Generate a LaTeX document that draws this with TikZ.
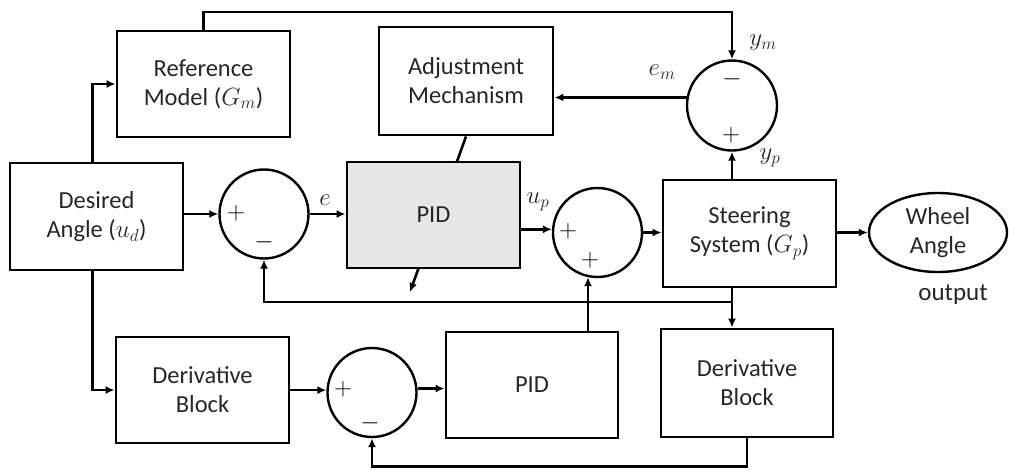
\documentclass[tikz,border=0pt]{standalone}
\usepackage{fontspec}
\setmainfont{Carlito}
\usetikzlibrary{arrows.meta,shapes.geometric}
\pgfdeclarelayer{background}
\pgfsetlayers{background,main}
\definecolor{pidgray}{HTML}{E6E6E6}
\definecolor{txt}{HTML}{262626}
\tikzset{
  blockbox/.style={draw=black, line width=2.9pt, rectangle, align=center, inner sep=0pt, text=txt,
    minimum width=173pt, minimum height=106pt, font=\fontsize{24.5}{29}\selectfont},
  sumnode/.style={draw=black, line width=2.4pt, circle, inner sep=0pt, minimum size=89pt},
  outnode/.style={draw=black, line width=2.4pt, ellipse, inner sep=0pt, align=center, text=txt,
    minimum width=138pt, minimum height=79pt, font=\fontsize{24.5}{29}\selectfont},
  conn/.style={draw=black, line width=2.6pt},
  arr/.style={conn, -{Latex[length=9pt,width=8pt]}},
  sgn/.style={inner sep=0pt, font=\fontsize{24}{28}\selectfont},
  lbl/.style={inner sep=0pt, font=\fontsize{25}{28}\selectfont, text=txt},
}
\begin{document}
\begin{tikzpicture}[x=1pt,y=-1pt]
\useasboundingbox (0,0) rectangle (1009,469);
% blocks
\node[blockbox] (ref) at (203.5,84) {Reference\\Model ($G_m$)};
\node[blockbox, minimum height=107pt] (des) at (96.5,216.5) {Desired\\Angle ($u_d$)};
\node[blockbox, minimum width=174pt, minimum height=108pt] (adj) at (466,81) {Adjustment\\Mechanism};
\node[blockbox, fill=pidgray] (pid1) at (433.5,215) {PID};
\node[blockbox, minimum height=107pt] (steer) at (749.5,233.5) {Steering\\System ($G_p$)};
\node[blockbox] (db1) at (202.5,390) {Derivative\\Block};
\node[blockbox, minimum width=172pt] (pid2) at (532,385) {PID};
\node[blockbox, minimum width=172pt, minimum height=108pt] (db2) at (747,383) {Derivative\\Block};
% summers
\node[sumnode] (s1) at (264,214) {};
\node[sumnode] (s2) at (597.5,232.5) {};
\node[sumnode] (s3) at (372,392.5) {};
\node[sumnode, minimum size=90pt] (sm) at (732,105.5) {};
\node[outnode] (wheel) at (938,232.5) {Wheel\\Angle};
% signs
\node[sgn] (p1) at (236,213) {$+$};
\node[sgn] (m1) at (264,242) {$-$};
\node[sgn] (p2a) at (568,231) {$+$};
\node[sgn] (p2b) at (590,260) {$+$};
\node[sgn] (p3) at (343,389) {$+$};
\node[sgn] (m3) at (370,423) {$-$};
\node[sgn] (mm) at (732,79) {$-$};
\node[sgn] (pm) at (731,135) {$+$};
% labels
\node[lbl] (le) at (325,200) {$e$};
\node[lbl] (lup) at (538,202) {$u_p$};
\node[lbl] (lem) at (662,72) {$e_m$};
\node[lbl] (lym) at (763,43) {$y_m$};
\node[lbl] (lyp) at (770,158) {$y_p$};
\node[lbl] (lout) at (953,295) {output};
% adaptation arrow (behind PID)
\coordinate (adapt) at (410,292);
\begin{pgfonlayer}{background}
\draw[arr] (adj.south) -- (adapt);
\end{pgfonlayer}
% connectors
\draw[arr] (ref.north) -- (ref.north |- 0,12) -| (sm.north);
\draw[arr] ([xshift=-4pt]des.north) |- (ref.west);
\draw[arr] ([xshift=-4pt]des.south) |- (db1.west);
\draw[arr] (des.east |- s1) -- (s1.west);
\draw[arr] (s1.east) -- (s1.east -| pid1.west);
\draw[arr] (pid1.east |- s2.176) -- (s2.176);
\draw[arr] (s2.east) -- (s2.east -| steer.west);
\draw[arr] (steer.east |- wheel.west) -- (wheel.west);
\draw[arr] (sm.south |- steer.north) -- (sm.south);
\draw[arr] (sm.170) -- (sm.170 -| adj.east);
\coordinate (fb) at (sm.south |- 0,302);
\draw[arr] (sm.south |- steer.south) -- (sm.south |- db2.north);
\draw[arr] (fb) -| (s1.south);
\draw[arr] (db1.east |- s3.177) -- (s3.177);
\draw[arr] (s3.5) -- (s3.5 -| pid2.west);
\draw[arr] (s2.-102 |- pid2.north) -- (s2.-102);
\draw[arr] (db2.south) -- (db2.south |- 0,466.5) -| (s3.south);
\end{tikzpicture}
\end{document}
